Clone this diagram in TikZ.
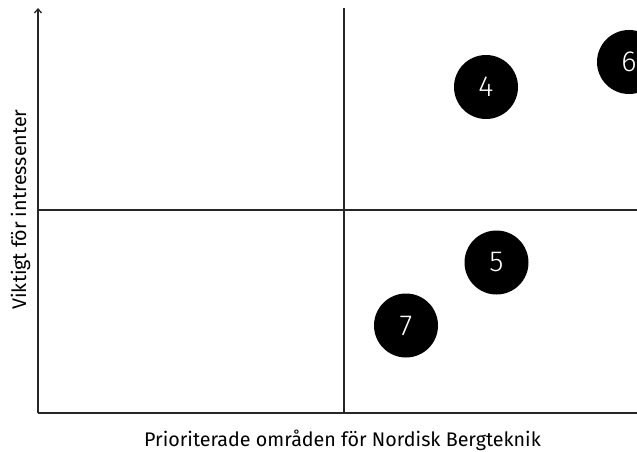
\documentclass[tikz,border=0pt]{standalone}
\usepackage{fontspec}
\setmainfont{Fira Sans}
\newfontfamily\digitfont{Fira Sans Light}
\usetikzlibrary{arrows.meta}
\begin{document}
\begin{tikzpicture}[x=1pt,y=-1pt,
  axis/.style={line width=1.3pt,draw=black!85},
  dot/.style={circle,fill=black,minimum size=64pt,inner sep=0pt,text=white,font=\digitfont\fontsize{29}{31}\selectfont},
  lbl/.style={font=\fontsize{19.7}{21}\selectfont,inner sep=0pt}]
\useasboundingbox (0,0) rectangle (637,452);
\begin{scope}
\clip (0,0) rectangle (637,452);
\coordinate (o) at (38,413);
\coordinate (top) at (38,8);
\coordinate (br) at (637,413);
\coordinate (mt) at (344,8);
\coordinate (mb) at (344,413);
\coordinate (ml) at (38,210);
\coordinate (mr) at (637,210);
\draw[axis] (mb) -- (mt);
\draw[axis] (ml) -- (mr);
\draw[axis,-{Straight Barb[length=4pt,width=7pt]}] (o) -- (top);
\draw[axis] (o) -- (br);
\node[dot] (n4) at (486,87) {4};
\node[dot] (n6) at (629,62) {6};
\node[dot] (n5) at (496.5,262.5) {5};
\node[dot] (n7) at (406,325.5) {7};
\end{scope}
\node[lbl,anchor=base] (xl) at (342.5,446) {Prioriterade områden för Nordisk Bergteknik};
\node[lbl,rotate=90,anchor=base] (yl) at (26,209.5) {Viktigt för intressenter};
\end{tikzpicture}
\end{document}
